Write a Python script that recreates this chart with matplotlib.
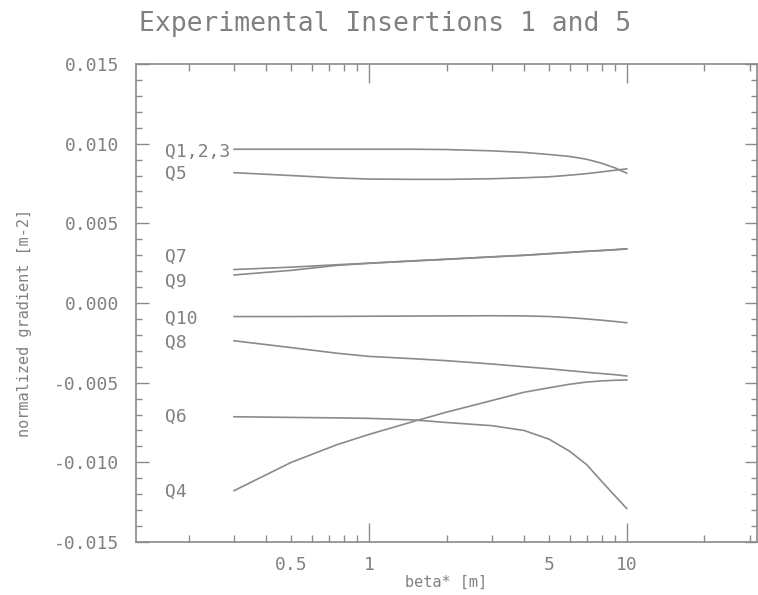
import matplotlib
matplotlib.use("Agg")
import matplotlib.pyplot as plt
from matplotlib.ticker import FixedLocator, FuncFormatter, MultipleLocator

beta = [0.3, 0.5, 0.75, 1, 1.5, 2, 3, 4, 5, 6, 7, 8, 9, 10]

q123 = [0.00965, 0.00965, 0.00965, 0.00965, 0.00965, 0.00963, 0.00955, 0.00945,
        0.00932, 0.00920, 0.00902, 0.00877, 0.00848, 0.00815]
q5 = [0.00818, 0.00800, 0.00785, 0.00778, 0.00776, 0.00776, 0.00780, 0.00786,
      0.00792, 0.00802, 0.00812, 0.00823, 0.00833, 0.00842]
q7 = [0.00210, 0.00225, 0.00240, 0.00250, 0.00265, 0.00275, 0.00290, 0.00300,
      0.00310, 0.00318, 0.00325, 0.00330, 0.00335, 0.00340]
q9 = [0.00176, 0.00205, 0.00236, 0.00249, 0.00264, 0.00274, 0.00289, 0.00299,
      0.00309, 0.00317, 0.00324, 0.00329, 0.00334, 0.00339]
q10 = [-0.00085, -0.00085, -0.00084, -0.00083, -0.00082, -0.00081, -0.00080, -0.00081,
       -0.00085, -0.00092, -0.00100, -0.00108, -0.00116, -0.00124]
q8 = [-0.00237, -0.00280, -0.00315, -0.00335, -0.00350, -0.00362, -0.00383, -0.00400,
      -0.00413, -0.00425, -0.00435, -0.00443, -0.00450, -0.00458]
q6 = [-0.00714, -0.00718, -0.00721, -0.00724, -0.00734, -0.00750, -0.00770, -0.00800,
      -0.00855, -0.00930, -0.01015, -0.01120, -0.01210, -0.01290]
q4 = [-0.01178, -0.01000, -0.00890, -0.00825, -0.00742, -0.00685, -0.00612, -0.00560,
      -0.00532, -0.00510, -0.00496, -0.00489, -0.00485, -0.00483]

series = [q123, q5, q7, q9, q10, q8, q6, q4]
names = ["Q1,2,3", "Q5", "Q7", "Q9", "Q10", "Q8", "Q6", "Q4"]
label_y = [0.0095, 0.0081, 0.0029, 0.00134, -0.0010, -0.0025, -0.00714, -0.01184]
label_x = 0.162

xticks_major = [1, 10]
xticks_minor = [0.2, 0.3, 0.4, 0.5, 0.6, 0.7, 0.8, 0.9, 2, 3, 4, 5, 6, 7, 8, 9, 20, 30]
xlabels_minor = {0.5: "0.5", 5: "5"}

title = "Experimental Insertions 1 and 5"
xlabel = "beta* [m]"
ylabel = "normalized gradient [m-2]"

GRAY = "#8a8a8a"
TXT = "#808080"
FONT = "DejaVu Sans Mono"

fig = plt.figure(figsize=(7.58, 5.95), dpi=100)
ax = fig.add_axes([136 / 758, 1 - 542 / 595, (757 - 136) / 758, (542 - 64) / 595])

for s in series:
    ax.plot(beta, s, color=GRAY, lw=1.2)
for n, yv in zip(names, label_y):
    ax.text(label_x, yv, n, ha="left", va="center", fontsize=13,
            family=FONT, color=TXT)

ax.set_xscale("log")
ax.set_xlim(0.125, 32)
ax.set_ylim(-0.015, 0.015)

ax.xaxis.set_major_locator(FixedLocator(xticks_major))
ax.xaxis.set_minor_locator(FixedLocator(xticks_minor))
ax.xaxis.set_major_formatter(FuncFormatter(lambda v, p: "%g" % v))
ax.xaxis.set_minor_formatter(FuncFormatter(lambda v, p: xlabels_minor.get(round(v, 3), "")))
ax.yaxis.set_major_locator(MultipleLocator(0.005))
ax.yaxis.set_minor_locator(MultipleLocator(0.001))
ax.yaxis.set_major_formatter(FuncFormatter(lambda v, p: "%.3f" % v))

ax.tick_params(axis="x", which="major", direction="in", length=14, width=1,
               top=True, bottom=True, color=GRAY, pad=10, labelsize=13, labelcolor=TXT)
ax.tick_params(axis="x", which="minor", direction="in", length=5, width=1,
               top=True, bottom=True, color=GRAY, pad=10, labelsize=13, labelcolor=TXT)
ax.tick_params(axis="y", which="major", direction="in", length=9, width=1,
               left=True, right=True, color=GRAY, pad=12, labelsize=13, labelcolor=TXT)
ax.tick_params(axis="y", which="minor", direction="in", length=4, width=1,
               left=True, right=True, color=GRAY)
for lab in ax.get_xticklabels(which="both") + ax.get_yticklabels():
    lab.set_family(FONT)

for sp in ax.spines.values():
    sp.set_color(GRAY)
    sp.set_linewidth(1.2)

ax.set_xlabel(xlabel, fontsize=11, family=FONT, color=TXT, labelpad=1)
ax.set_ylabel(ylabel, fontsize=11, family=FONT, color=TXT)
ax.yaxis.set_label_coords(-0.168, 0.458)
fig.text(385 / 758, 1 - 24 / 595, title, ha="center", va="center",
         fontsize=19, family=FONT, color=TXT)

fig.savefig("out.png", dpi=100)
